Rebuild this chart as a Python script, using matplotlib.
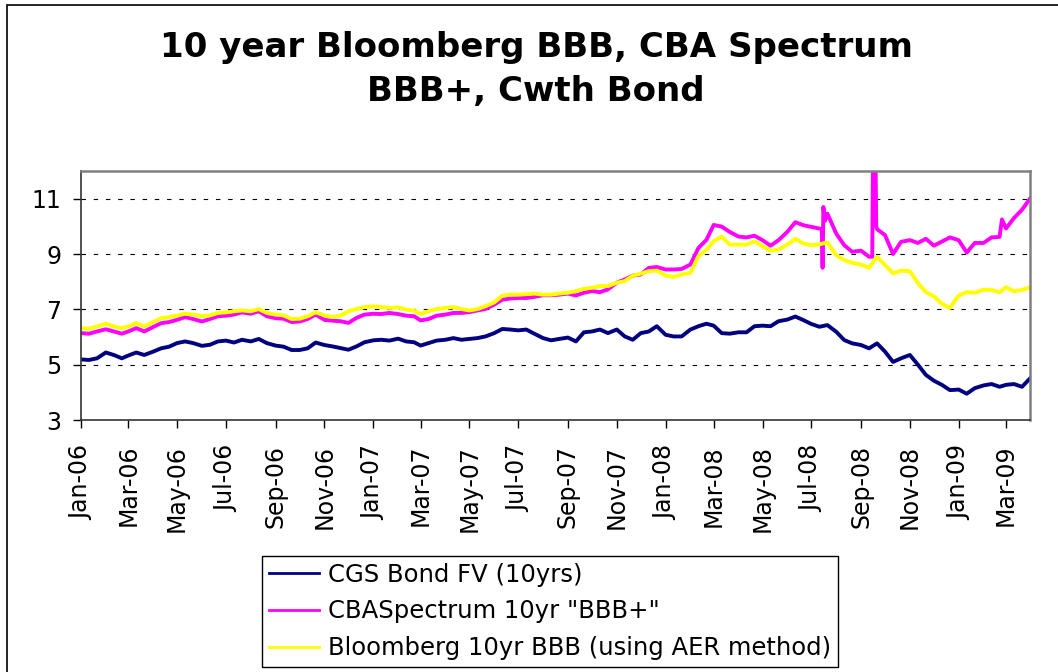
import matplotlib
matplotlib.use("Agg")
import matplotlib.pyplot as plt
import matplotlib.dates as mdates
import matplotlib.patches as patches
import pandas as pd

# sample dates: 1st, 11th and 21st of each month, plus end of March 2009
months = pd.date_range("2006-01-01", "2009-03-01", freq="MS")
dates = [m + pd.Timedelta(days=d) for m in months for d in (0, 10, 20)]
dates.append(pd.Timestamp("2009-03-31"))

cgs_bond = [
    5.19, 5.17, 5.23, 5.44, 5.35, 5.23, 5.33, 5.44, 5.35, 5.47,
    5.59, 5.65, 5.78, 5.84, 5.78, 5.68, 5.72, 5.84, 5.87, 5.80,
    5.90, 5.84, 5.93, 5.78, 5.69, 5.65, 5.53, 5.53, 5.59, 5.80,
    5.71, 5.66, 5.60, 5.54, 5.66, 5.81, 5.88, 5.90, 5.87, 5.94,
    5.84, 5.81, 5.69, 5.78, 5.87, 5.90, 5.96, 5.90, 5.93, 5.96,
    6.02, 6.14, 6.29, 6.27, 6.24, 6.27, 6.12, 5.96, 5.88, 5.93,
    5.98, 5.84, 6.17, 6.20, 6.27, 6.14, 6.27, 6.02, 5.90, 6.14,
    6.20, 6.39, 6.08, 6.02, 6.02, 6.27, 6.39, 6.48, 6.41, 6.14,
    6.12, 6.17, 6.17, 6.39, 6.41, 6.39, 6.57, 6.63, 6.74, 6.61,
    6.47, 6.37, 6.43, 6.19, 5.89, 5.77, 5.71, 5.59, 5.77, 5.47,
    5.10, 5.23, 5.35, 5.00, 4.63, 4.42, 4.27, 4.08, 4.10, 3.95,
    4.15, 4.25, 4.30, 4.20, 4.27, 4.30, 4.20, 4.50,
]

cba_spectrum = [
    6.14, 6.12, 6.20, 6.28, 6.20, 6.12, 6.20, 6.32, 6.20, 6.36,
    6.50, 6.54, 6.62, 6.72, 6.65, 6.56, 6.65, 6.75, 6.77, 6.81,
    6.89, 6.84, 6.93, 6.75, 6.68, 6.66, 6.54, 6.56, 6.65, 6.81,
    6.62, 6.59, 6.57, 6.51, 6.69, 6.81, 6.84, 6.83, 6.87, 6.83,
    6.77, 6.75, 6.60, 6.65, 6.77, 6.81, 6.87, 6.87, 6.90, 6.96,
    7.01, 7.17, 7.35, 7.39, 7.41, 7.41, 7.45, 7.51, 7.51, 7.53,
    7.57, 7.50, 7.60, 7.66, 7.62, 7.72, 7.96, 8.08, 8.22, 8.26,
    8.50, 8.53, 8.44, 8.44, 8.46, 8.62, 9.22, 9.51, 10.05, 9.99,
    9.80, 9.63, 9.60, 9.66, 9.50, 9.30, 9.50, 9.80, 10.15, 10.04,
    9.98, 9.92, 10.46, 9.74, 9.32, 9.08, 9.12, 8.90, 9.90, 9.68,
    9.00, 9.44, 9.50, 9.40, 9.55, 9.30, 9.45, 9.60, 9.50, 9.05,
    9.40, 9.40, 9.60, 9.62, 9.92, 10.30, 10.60, 11.00,
]

# short-lived spikes in the CBA series
cba_spike_dates = ["2008-07-14", "2008-07-15", "2008-07-16", "2008-07-18",
                   "2008-09-15", "2008-09-16", "2008-09-19", "2008-09-20",
                   "2009-02-24"]
cba_spike_values = [9.90, 8.50, 10.70, 10.20, 8.90, 12.80, 12.80, 10.00, 10.25]

bloomberg_bbb = [
    6.32, 6.30, 6.38, 6.48, 6.38, 6.32, 6.38, 6.50, 6.38, 6.54,
    6.68, 6.72, 6.78, 6.84, 6.81, 6.75, 6.78, 6.87, 6.89, 6.93,
    6.96, 6.93, 7.01, 6.87, 6.81, 6.78, 6.65, 6.66, 6.75, 6.89,
    6.78, 6.72, 6.77, 6.93, 7.01, 7.08, 7.11, 7.08, 7.05, 7.07,
    6.99, 6.95, 6.83, 6.93, 7.01, 7.05, 7.08, 7.01, 6.96, 7.01,
    7.11, 7.25, 7.49, 7.53, 7.53, 7.55, 7.57, 7.53, 7.53, 7.57,
    7.60, 7.66, 7.74, 7.78, 7.84, 7.84, 7.96, 8.02, 8.22, 8.29,
    8.38, 8.40, 8.22, 8.17, 8.26, 8.32, 8.92, 9.16, 9.46, 9.63,
    9.34, 9.34, 9.34, 9.46, 9.28, 9.12, 9.16, 9.34, 9.55, 9.38,
    9.32, 9.35, 9.42, 8.96, 8.78, 8.68, 8.62, 8.50, 8.90, 8.60,
    8.30, 8.40, 8.38, 7.95, 7.62, 7.47, 7.20, 7.05, 7.50, 7.62,
    7.60, 7.71, 7.70, 7.62, 7.80, 7.65, 7.70, 7.80,
]

labels = ["CGS Bond FV (10yrs)", 'CBASpectrum 10yr "BBB+"',
          "Bloomberg 10yr BBB (using AER method)"]
colors = ["#000080", "#FF00FF", "#FFFF00"]

cgs = pd.Series(cgs_bond, index=dates)
cba = pd.Series(cba_spectrum, index=dates).combine_first(
    pd.Series(cba_spike_values, index=pd.to_datetime(cba_spike_dates)))
bbb = pd.Series(bloomberg_bbb, index=dates)

W, H = 1058, 672
fig = plt.figure(figsize=(W / 100, H / 100), dpi=100)
fig.patch.set_facecolor("white")

# outer chart border (cropped at right / bottom in the original)
fig.add_artist(patches.Rectangle((7 / W, -0.2), 2.0, 1.2 - 5 / H,
                                 transform=fig.transFigure, fill=False,
                                 edgecolor="black", linewidth=1.2))

ax = fig.add_axes([81 / W, 1 - 420 / H, (1030 - 81) / W, (420 - 171) / H])

for s, c, lab in zip([cgs, cba, bbb], colors, labels):
    ax.plot(s.index, s.values, color=c, linewidth=2.8, label=lab)

ax.set_ylim(3, 12)
ax.set_yticks([3, 5, 7, 9, 11])
ax.set_xlim(pd.Timestamp("2006-01-01"), pd.Timestamp("2009-03-31"))
ax.xaxis.set_major_locator(mdates.MonthLocator(bymonth=[1, 3, 5, 7, 9, 11]))
ax.xaxis.set_major_formatter(mdates.DateFormatter("%b-%y"))

for y in [5, 7, 9, 11]:
    ax.axhline(y, color="black", linewidth=0.8, dashes=(4, 7), zorder=0)

for side in ["top", "right"]:
    ax.spines[side].set_color("#808080")
    ax.spines[side].set_linewidth(1.8)
for side in ["left", "bottom"]:
    ax.spines[side].set_color("#333333")
    ax.spines[side].set_linewidth(1.2)

ax.tick_params(axis="y", direction="out", length=6, width=1, labelsize=17, pad=8)
ax.tick_params(axis="x", direction="out", length=6, width=1, labelsize=17,
               pad=12, labelrotation=90)

fig.text(536 / W, 1 - 47 / H, "10 year Bloomberg BBB, CBA Spectrum",
         ha="center", va="center", fontsize=24.5, fontweight="bold")
fig.text(536 / W, 1 - 91 / H, "BBB+, Cwth Bond",
         ha="center", va="center", fontsize=24.5, fontweight="bold")

leg = ax.legend(loc="upper left", bbox_to_anchor=(262 / W, 1 - 556 / H),
                bbox_transform=fig.transFigure, fontsize=17.5, frameon=True,
                fancybox=False, edgecolor="black", framealpha=1,
                handlelength=2.05, handletextpad=0.4, labelspacing=0.52,
                borderpad=0.28, borderaxespad=0)
leg.get_frame().set_linewidth(1.0)
for line in leg.get_lines():
    line.set_linewidth(2.0)

fig.savefig("out.png", dpi=100)
